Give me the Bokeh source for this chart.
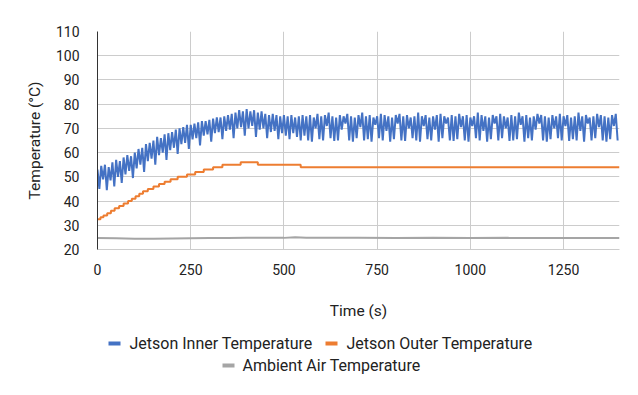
from bokeh.plotting import figure
from bokeh.models import Range1d, FixedTicker
from bokeh.core.properties import value
from bokeh.layouts import column
from bokeh.embed import file_html
from bokeh.resources import INLINE

# ---------------- data ----------------
x_ticks = [0, 250, 500, 750, 1000, 1250]
y_ticks = [20, 30, 40, 50, 60, 70, 80, 90, 100, 110]

sample_step = 10  # seconds between successive "high" samples of the inner sensor

# Jetson inner temperature: upper samples (t = 0, 10, 20, ...)
inner_hi = [
    53, 54.5, 55, 54, 56, 57, 56.5, 58, 59, 58.5,
    60, 61.5, 62, 63.5, 64, 65, 66.5, 66, 67.5, 68,
    68.5, 69.5, 70, 70.5, 71.5, 71.5, 72, 72.5, 73, 73,
    73.5, 74, 74.5, 74.5, 75, 75.5, 76, 76.5, 77.5, 77,
    78, 77, 77.5, 76.5, 77, 76, 75.5, 76, 75.5, 75,
    75.5, 75, 75.5, 74.5, 75, 75.5,
    75, 75.5, 74.5, 76, 75, 75.5, 76.5, 75, 74.5, 75.5,
    75, 76, 75, 74.5, 75.5, 76.5, 75, 75.5, 74.5, 75,
    76, 75.5, 75, 74.5, 75.5, 76, 75, 75.5, 74.5, 75,
    76.5, 75, 75.5, 74.5, 75, 75.5, 76, 75, 74.5, 75.5,
    75, 76, 75, 75.5, 74.5, 75, 76.5, 75.5, 75, 74.5,
    75.5, 75, 76, 75, 74.5, 75.5, 75, 76.5, 75, 75.5,
    74.5, 75, 76, 75.5, 75, 74.5, 75.5, 75, 76, 75,
    75.5, 74.5, 75, 76.5, 75, 75.5, 74.5, 75, 76, 75.5,
    75, 74.5, 75.5, 76,
]
# Jetson inner temperature: lower samples (t = 5, 15, 25, ...)
inner_lo = [
    45, 49, 44.5, 48.5, 46, 50, 47.5, 51, 52.5, 49.5,
    53.5, 55, 52, 56.5, 57.5, 55, 59, 60, 57, 61,
    62, 59.5, 63.5, 64, 61.5, 65.5, 66, 63, 67, 67.5,
    64.5, 68, 68.5, 65.5, 69, 69.5, 66, 70, 70.5, 67,
    70, 71, 66.5, 69.5, 70, 66, 68.5, 69, 65.5, 68,
    67, 65.5, 68, 66.5, 65, 67,
    65, 64.5, 70, 65.5, 65, 71, 66, 64.8, 65, 69.5,
    72, 65, 64.5, 66, 70.5, 65, 65.5, 64.5, 71.5, 66,
    65, 69, 64.5, 65.5, 72, 65, 64.8, 70, 66, 65,
    64.5, 71, 65.5, 65, 69.5, 64.5, 66, 72, 65, 64.8,
    65.5, 70.5, 65, 64.5, 71, 66, 65, 69, 64.5, 65.5,
    72, 65, 66, 70, 64.8, 65, 65.5, 71.5, 64.5, 66,
    65, 69.5, 72, 65, 64.5, 65.5, 70, 66, 65, 71,
    64.8, 65.5, 65, 69, 64.5, 72, 65, 66, 70.5, 65,
    64.5, 65.5, 71, 65,
]

# Jetson outer temperature (step changes)
outer_t = [0, 8, 16, 26, 36, 46, 58, 70, 82, 92, 102, 112, 122, 135, 150, 165,
           180, 196, 215, 240, 262, 285, 310, 335, 384, 430, 545, 1400]
outer_v = [32.5, 33.3, 34, 35, 36, 37, 38, 39, 40, 41, 42, 43, 44, 45, 46, 47,
           48, 49, 50, 51, 52, 53, 54, 55, 56, 55, 54, 54]

# Ambient air temperature
amb_t = [0, 50, 100, 150, 200, 250, 300, 350, 400, 450, 500, 530, 560, 600,
         700, 800, 900, 1000, 1100, 1200, 1300, 1400]
amb_v = [24.7, 24.6, 24.4, 24.4, 24.5, 24.6, 24.7, 24.7, 24.8, 24.8, 24.8, 25.1,
         24.9, 24.8, 24.8, 24.7, 24.8, 24.7, 24.8, 24.7, 24.7, 24.7]

series_names = ["Jetson Inner Temperature", "Jetson Outer Temperature",
                "Ambient Air Temperature"]
colors = ["#4472C4", "#ED7D31", "#A5A5A5"]

# interleave high / low samples of the inner sensor
inner_t, inner_v = [], []
for i, (hi, lo) in enumerate(zip(inner_hi, inner_lo)):
    inner_t += [i * sample_step, i * sample_step + sample_step / 2]
    inner_v += [hi, lo]

# ---------------- main chart ----------------
FONT = "Roboto"
TXT = "#222222"
LEFT, RIGHT, W = 97, 19, 638

p = figure(width=W, height=325, output_backend="svg", toolbar_location=None,
           x_range=Range1d(0, 1400), y_range=Range1d(20, 110),
           min_border_left=LEFT, min_border_right=RIGHT, min_border_top=31,
           min_border_bottom=76)
p.outline_line_color = None
p.background_fill_color = "white"
p.border_fill_color = "white"

p.xaxis.ticker = FixedTicker(ticks=x_ticks)
p.yaxis.ticker = FixedTicker(ticks=y_ticks)
for g in (p.xgrid, p.ygrid):
    g.grid_line_color = "#cccccc"
    g.grid_line_width = 1

for ax in (p.xaxis, p.yaxis):
    ax.major_tick_line_color = None
    ax.minor_tick_line_color = None
    ax.major_label_text_font = FONT
    ax.major_label_text_font_size = "14px"
    ax.major_label_text_color = TXT
    ax.axis_label_text_font = FONT
    ax.axis_label_text_font_size = "15.5px"
    ax.axis_label_text_font_style = "normal"
    ax.axis_label_text_color = TXT

p.xaxis.axis_line_color = "#cccccc"
p.yaxis.axis_line_color = "#333333"
p.xaxis.major_label_standoff = 8
p.yaxis.major_label_standoff = 12
p.xaxis.axis_label = "Time (s)"
p.yaxis.axis_label = "Temperature (°C)"
p.xaxis.axis_label_standoff = 24
p.yaxis.axis_label_standoff = 9

p.line(amb_t, amb_v, color=colors[2], line_width=2)
p.line(inner_t, inner_v, color=colors[0], line_width=2.0)
p.step(outer_t, outer_v, mode="after", color=colors[1], line_width=2)

# ---------------- legend strip below the chart (page-pixel coordinates) ----------------
# same side borders as the chart, so the column keeps the frames aligned;
# x data == page pixel column, y data == pixels below the top of the strip
lf = figure(width=W, height=70, output_backend="svg", toolbar_location=None,
            x_range=Range1d(LEFT, W - RIGHT), y_range=Range1d(70, 0),
            min_border_left=LEFT, min_border_right=RIGHT,
            min_border_top=0, min_border_bottom=0,
            x_axis_type=None, y_axis_type=None)
lf.outline_line_color = None
lf.grid.visible = False
lf.background_fill_color = "white"
lf.border_fill_color = "white"

key_x = [114, 331, 228]      # centres of the colour keys
key_y = [18, 18, 40]
label_x = [129, 346, 242]

lf.rect(x=key_x, y=key_y, width=12, height=4, fill_color=colors, line_color=None)
lf.text(x=label_x, y=key_y, text=series_names, text_baseline="middle",
        text_align="left", text_font=value(FONT), text_font_size="16px",
        text_color=TXT)

open("out.html", "w").write(file_html(column(p, lf, spacing=0), INLINE))
